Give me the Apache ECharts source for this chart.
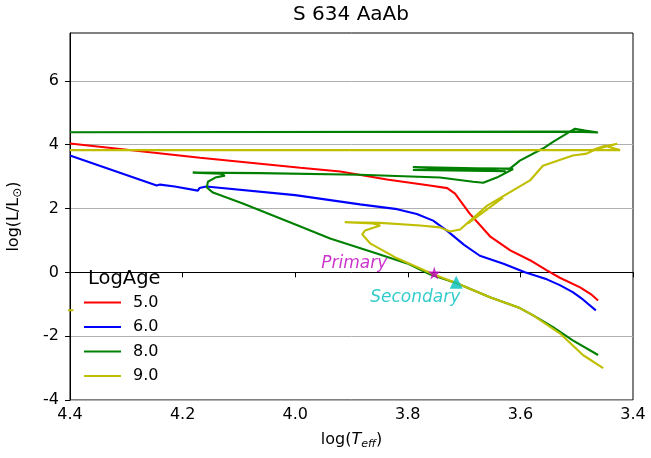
<!DOCTYPE html>
<html>
<head>
<meta charset="utf-8">
<script src="https://cdn.jsdelivr.net/npm/echarts@6/dist/echarts.min.js"></script>
<style>
  html, body { margin: 0; padding: 0; background: #fff; }
  #chart { width: 651px; height: 458px; }
</style>
</head>
<body>
<div id="chart"></div>
<script>
// isochrones, [log Teff, log L/Lsun], null = break in the track
const ageLabels = ['5.0', '6.0', '8.0', '9.0']
const iso50 = [
  [4.40, 4.04], [4.169, 3.59], [3.991, 3.28], [3.92, 3.16], [3.837, 2.91], [3.761, 2.72],
  [3.73, 2.64], [3.716, 2.47], [3.707, 2.25], [3.69, 1.84], [3.654, 1.13], [3.618, 0.69],
  [3.583, 0.38], [3.553, 0.06], [3.53, -0.17], [3.494, -0.47], [3.475, -0.68], [3.462, -0.88]
]
const iso60 = [
  [4.40, 3.66], [4.246, 2.72], [4.24, 2.75], [4.214, 2.69], [4.173, 2.56], [4.17, 2.64],
  [4.158, 2.69], [4.0, 2.42], [3.885, 2.13], [3.819, 1.98], [3.784, 1.83], [3.755, 1.62],
  [3.73, 1.30], [3.70, 0.86], [3.672, 0.52], [3.63, 0.27], [3.592, 0.0], [3.553, -0.22],
  [3.53, -0.40], [3.507, -0.62], [3.489, -0.85], [3.466, -1.19]
]
const iso80 = [
  [3.462, -2.59], [3.507, -2.13], [3.542, -1.72], [3.578, -1.34], [3.601, -1.12], [3.654, -0.78],
  [3.713, -0.34], [3.761, -0.06], [3.801, 0.28], [3.862, 0.63], [3.938, 1.06], [4.004, 1.53],
  [4.093, 2.16], [4.146, 2.50], [4.157, 2.66], [4.155, 2.84], [4.142, 2.97], [4.125, 3.03],
  [4.132, 3.09], [4.182, 3.125], [4.063, 3.11], [3.885, 3.06], [3.743, 2.97], [3.684, 2.84],
  [3.666, 2.81], [3.642, 2.97], [3.613, 3.24], [3.791, 3.30], [3.626, 3.17], [3.791, 3.21],
  [3.618, 3.26], [3.601, 3.50], [3.56, 3.88], [3.542, 4.09], [3.512, 4.41], [3.503, 4.50],
  [3.485, 4.44], [3.462, 4.38], [3.503, 4.41], [4.40, 4.39]
]
const iso90 = [
  [3.453, -3.0], [3.489, -2.59], [3.53, -1.91], [3.578, -1.34], [3.601, -1.12], [3.654, -0.78],
  [3.713, -0.34], [3.755, -0.06], [3.819, 0.44], [3.867, 0.91], [3.881, 1.19], [3.876, 1.31],
  [3.849, 1.47], [3.862, 1.53], [3.912, 1.57], [3.849, 1.55], [3.778, 1.47], [3.743, 1.41],
  [3.725, 1.28], [3.707, 1.34], [3.693, 1.56], [3.659, 2.09], [3.583, 2.88], [3.56, 3.34],
  [3.507, 3.66], [3.482, 3.72], [3.459, 3.91], [3.428, 4.03], [3.476, 3.81], [3.45, 3.97],
  [3.423, 3.83], [4.40, 3.83],
  null, [3.693, 1.53], [3.631, 2.34],
  null, [4.45, -1.19], [4.394, -1.19]
]
const primary = [3.753, -0.02]
const secondary = [3.714, -0.31]
const xTicks = [4.4, 4.2, 4.0, 3.8, 3.6, 3.4]
const yTicks = [-4, -2, 0, 2, 4, 6]

const font = 'DejaVu Sans'
const ageColors = ['#ff0000', '#0000ff', '#008000', '#bfbf00']
const starPath = 'path://M50,0 L61,35 L98,35 L68,57 L79,91 L50,70 L21,91 L32,57 L2,35 L39,35 Z'

const chart = echarts.init(document.getElementById('chart'), null, { renderer: 'canvas' })

const isoSeries = [iso50, iso60, iso80, iso90].map((d, i) => ({
  name: ageLabels[i],
  type: 'line',
  data: d,
  symbol: 'none',
  connectNulls: false,
  lineStyle: { color: ageColors[i], width: 2.1 },
  itemStyle: { color: ageColors[i] },
  animation: false
}))

const option = {
  animation: false,
  title: {
    text: 'S 634 AaAb',
    left: 351,
    top: 5,
    padding: 0,
    textAlign: 'center',
    textStyle: { fontFamily: font, fontSize: 20, fontWeight: 'normal', color: '#000' }
  },
  grid: {
    left: 70, right: 18, top: 33, bottom: 58,
    outerBoundsMode: 'none',
    containLabel: false,
    show: true, borderColor: '#000', borderWidth: 1
  },
  legend: {
    data: ageLabels,
    orient: 'vertical',
    left: 84,
    top: 293,
    padding: 0,
    icon: 'rect',
    itemWidth: 37,
    itemHeight: 2,
    itemGap: 5.5,
    textStyle: { fontFamily: font, fontSize: 16, color: '#000', lineHeight: 19, padding: [0, 0, 0, 7] }
  },
  graphic: [{
    type: 'text',
    left: 88,
    top: 269,
    style: { text: 'LogAge', font: '19.5px "DejaVu Sans"', fill: '#000' }
  }],
  xAxis: {
    type: 'value',
    min: 3.4, max: 4.4, interval: 0.2,
    inverse: true,
    name: '{a|log(}{i|T}{s|eff}{a|)}',
    nameLocation: 'middle',
    nameGap: 30,
    nameTextStyle: {
      fontFamily: font, fontSize: 16, color: '#000',
      rich: {
        a: { fontFamily: font, fontSize: 16, color: '#000' },
        i: { fontFamily: font, fontSize: 16, fontStyle: 'italic', color: '#000' },
        s: { fontFamily: font, fontSize: 11, fontStyle: 'italic', color: '#000', padding: [9, 0, 0, 0] }
      }
    },
    axisLine: { show: true, lineStyle: { color: '#000', width: 1 } },
    axisTick: { show: true, inside: false, length: 5, lineStyle: { color: '#000' } },
    axisLabel: {
      customValues: xTicks,
      margin: 7, fontFamily: font, fontSize: 16, color: '#000',
      formatter: v => v.toFixed(1)
    },
    splitLine: { show: false }
  },
  yAxis: {
    type: 'value',
    min: -4, max: 7.5, interval: 2,
    name: '{a|log(L/L}{s|⊙}{a|)}',
    nameLocation: 'middle',
    nameGap: 46,
    nameRotate: 90,
    nameTextStyle: {
      fontFamily: font, fontSize: 16, color: '#000',
      rich: {
        a: { fontFamily: font, fontSize: 16, color: '#000' },
        s: { fontFamily: font, fontSize: 12, color: '#000', padding: [9, 0, 0, 0] }
      }
    },
    axisLine: { show: true, lineStyle: { color: '#000', width: 1 } },
    axisTick: { show: true, inside: false, length: 5, customValues: yTicks, lineStyle: { color: '#000' } },
    axisLabel: {
      customValues: yTicks,
      margin: 11, fontFamily: font, fontSize: 16, color: '#000'
    },
    splitLine: { show: true, lineStyle: { color: '#b0b0b0', width: 1 } }
  },
  series: isoSeries.concat([
    {
      name: 'Primary',
      type: 'scatter',
      data: [primary],
      symbol: starPath,
      symbolSize: 13,
      itemStyle: { color: '#bf00bf' },
      label: {
        show: true, position: 'inside', align: 'right', verticalAlign: 'middle',
        offset: [-47, -9], formatter: 'Primary',
        fontFamily: font, fontSize: 17, fontStyle: 'italic', color: '#bf00bf'
      },
      z: 5
    },
    {
      name: 'Secondary',
      type: 'scatter',
      data: [secondary],
      symbol: 'triangle',
      symbolSize: 13,
      itemStyle: { color: '#00bfbf' },
      label: {
        show: true, position: 'inside', align: 'right', verticalAlign: 'middle',
        offset: [4, 15], formatter: 'Secondary',
        fontFamily: font, fontSize: 17, fontStyle: 'italic', color: '#00bfbf'
      },
      z: 5
    }
  ])
}

chart.setOption(option)
</script>
</body>
</html>
